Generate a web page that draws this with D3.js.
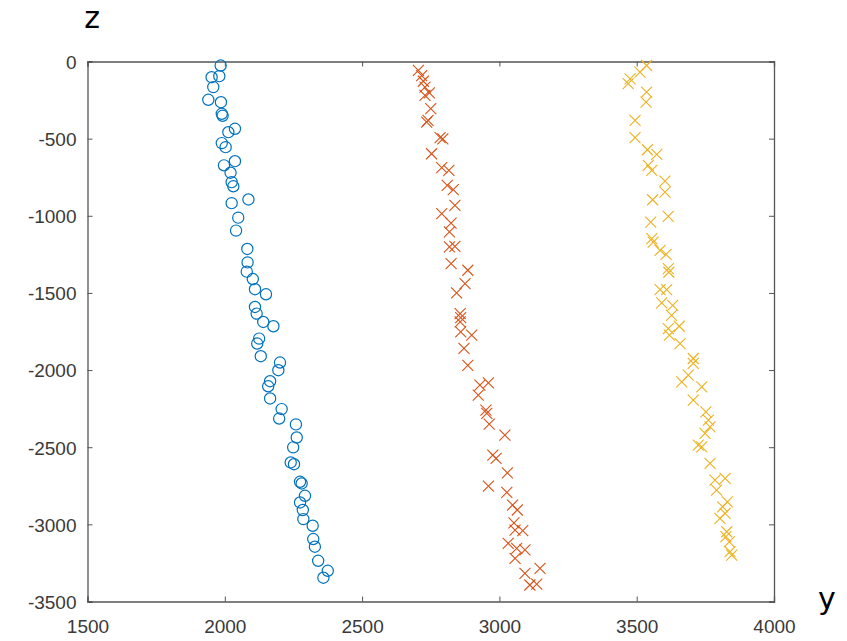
<!DOCTYPE html>
<html>
<head>
<meta charset="utf-8">
<script src="https://cdn.jsdelivr.net/npm/d3@7/dist/d3.min.js"></script>
<style>
  html, body { margin: 0; padding: 0; background: #fff; }
  svg { display: block; }
</style>
</head>
<body>
<script>
// ---- Data (y, z) ----
const blueY = [1985,1952,1980,1958,1940,1986,1989,1992,2037,2013,1989,2003,2037,1997,2021,2025,2031,2086,2025,2049,2041,2082,2083,2080,2102,2110,2150,2110,2116,2140,2177,2125,2118,2131,2201,2195,2165,2158,2165,2207,2198,2259,2262,2249,2240,2252,2274,2280,2292,2274,2284,2286,2320,2322,2328,2340,2375,2359];
const blueZ = [-26,-102,-95,-166,-248,-264,-339,-352,-436,-458,-529,-555,-646,-673,-721,-782,-809,-894,-918,-1012,-1096,-1215,-1302,-1362,-1410,-1476,-1509,-1591,-1634,-1688,-1716,-1796,-1828,-1910,-1951,-2001,-2072,-2105,-2184,-2253,-2314,-2352,-2437,-2501,-2599,-2610,-2724,-2735,-2815,-2858,-2907,-2966,-3009,-3095,-3145,-3236,-3301,-3346];

const redY = [2705,2717,2723,2729,2745,2729,2750,2735,2740,2784,2794,2753,2790,2816,2810,2832,2838,2790,2824,2818,2818,2838,2824,2885,2875,2844,2857,2859,2857,2859,2899,2871,2885,2929,2960,2923,2951,2954,2963,3020,2976,2988,3029,2960,3027,3048,3065,3053,3085,3057,3032,3063,3093,3057,3093,3148,3111,3136];
const redZ = [-58,-91,-128,-166,-203,-220,-306,-393,-382,-494,-501,-598,-688,-706,-803,-831,-932,-986,-1047,-1105,-1202,-1198,-1310,-1353,-1440,-1500,-1634,-1660,-1688,-1753,-1774,-1860,-1969,-2098,-2083,-2163,-2260,-2281,-2351,-2422,-2551,-2573,-2666,-2752,-2793,-2875,-2907,-2990,-3041,-3037,-3123,-3155,-3166,-3220,-3317,-3285,-3393,-3387];

const yellowY = [3536,3512,3476,3469,3536,3534,3494,3494,3539,3573,3542,3555,3603,3603,3558,3615,3551,3555,3560,3585,3607,3615,3617,3585,3609,3591,3631,3627,3655,3615,3619,3658,3706,3706,3664,3688,3737,3706,3752,3761,3767,3749,3724,3737,3767,3785,3822,3791,3830,3813,3803,3822,3828,3825,3837,3840,3846];
const yellowZ = [-26,-69,-112,-144,-199,-264,-382,-494,-572,-602,-673,-706,-775,-846,-896,-1004,-1041,-1148,-1170,-1224,-1250,-1342,-1366,-1478,-1478,-1565,-1580,-1645,-1716,-1731,-1774,-1828,-1925,-1957,-2077,-2033,-2109,-2195,-2271,-2325,-2368,-2411,-2487,-2498,-2605,-2713,-2702,-2778,-2854,-2886,-2961,-2929,-3048,-3080,-3113,-3177,-3199];

const xTicks = [1500, 2000, 2500, 3000, 3500, 4000];
const zTicks = [0, -500, -1000, -1500, -2000, -2500, -3000, -3500];
const xLabel = "y";
const zLabel = "z";

// ---- Layout ----
const W = 847, H = 641;
const plotL = 87.5, plotR = 774, plotT = 61.5, plotB = 601.5;

const svg = d3.select("body").append("svg").attr("width", W).attr("height", H);

const x = d3.scaleLinear().domain([1500, 4000]).range([plotL, plotR]);
const y = d3.scaleLinear().domain([-3500, 0]).range([plotB, plotT]);

const axisColor = "#555";
const tickFont = "'Liberation Sans', Arial, sans-serif";
const tl = 5;
const fmt = d => String(d);   // plain hyphen-minus, as in the reference

const gB = svg.append("g").attr("transform", `translate(0,${plotB})`)
  .call(d3.axisBottom(x).tickValues(xTicks).tickSize(-tl).tickFormat(fmt));
const gT = svg.append("g").attr("transform", `translate(0,${plotT})`)
  .call(d3.axisTop(x).tickValues(xTicks).tickSize(-tl).tickFormat(""));
const gL = svg.append("g").attr("transform", `translate(${plotL},0)`)
  .call(d3.axisLeft(y).tickValues(zTicks).tickSize(-tl).tickPadding(11).tickFormat(fmt));
const gR = svg.append("g").attr("transform", `translate(${plotR},0)`)
  .call(d3.axisRight(y).tickValues(zTicks).tickSize(-tl).tickFormat(""));

[gB, gT, gL, gR].forEach(g => {
  g.select(".domain").attr("stroke", axisColor).attr("stroke-width", 1.3);
  g.selectAll(".tick line").attr("stroke", axisColor).attr("stroke-width", 1);
  g.selectAll(".tick text").attr("fill", "#3a3a3a").style("font-family", tickFont).style("font-size", "19px");
});
gB.selectAll(".tick text").attr("y", 18).attr("dy", "0.71em");
gL.selectAll(".tick text").attr("dy", "0.36em");

// ---- Markers ----
const blue = "#0072BD", red = "#D95319", yellow = "#EDB120";
const gPts = svg.append("g");

gPts.selectAll("circle.b").data(d3.zip(blueY, blueZ)).join("circle")
  .attr("class", "b")
  .attr("cx", d => x(d[0])).attr("cy", d => y(d[1]))
  .attr("r", 5.6)
  .attr("fill", "none").attr("stroke", blue).attr("stroke-width", 1.2);

function drawCross(data, color) {
  gPts.append("g").selectAll("path").data(data).join("path")
    .attr("transform", d => `translate(${x(d[0])},${y(d[1])})`)
    .attr("d", "M-5.5,-5.5L5.5,5.5M-5.5,5.5L5.5,-5.5")
    .attr("fill", "none").attr("stroke", color).attr("stroke-width", 1.1);
}
drawCross(d3.zip(redY, redZ), red);
drawCross(d3.zip(yellowY, yellowZ), yellow);

// ---- Axis labels ----
const labelFont = "'DejaVu Sans', 'Noto Sans', sans-serif";
svg.append("text").attr("x", 92).attr("y", 28).attr("text-anchor", "middle")
  .style("font-family", labelFont).style("font-size", "30px")
  .attr("fill", "#000").text(zLabel);
svg.append("text").attr("x", 827).attr("y", 609).attr("text-anchor", "middle")
  .style("font-family", labelFont).style("font-size", "30px")
  .attr("fill", "#000").text(xLabel);
</script>
</body>
</html>
